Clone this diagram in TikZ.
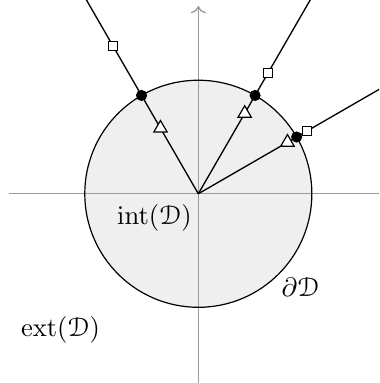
\documentclass[tikz,border=0pt]{standalone}
\usepackage{eucal}
\usetikzlibrary{arrows.meta, shapes.geometric}
\definecolor{cfill}{HTML}{EFEFEF}
\definecolor{caxis}{HTML}{9A9A9A}
\tikzset{
  axis/.style={draw=caxis, line width=0.5pt},
  ray/.style={draw=black, line width=0.5pt},
  bdot/.style={circle, fill=black, inner sep=0pt, minimum size=4.2pt},
  tmark/.style={regular polygon, regular polygon sides=3, draw=black, fill=white, inner sep=0pt, minimum size=5.8pt, line width=0.45pt},
  smark/.style={rectangle, draw=black, fill=white, inner sep=0pt, minimum size=3.3pt, line width=0.4pt},
}

\begin{document}
\begin{tikzpicture}
  \useasboundingbox (-2.62,-2.5) rectangle (2.39,2.56);
  \clip (-2.62,-2.5) rectangle (2.39,2.56);
  \coordinate (O) at (0,0);
  % the disc and the axes
  \fill[cfill] (O) circle (1.5);
  \draw[axis] (-2.5,0) -- (2.5,0);
  \draw[axis, ->] (0,-2.5) -- (0,2.48);
  \draw[black, line width=0.45pt] (O) circle (1.5);
  % rays through the boundary
  \coordinate (e1) at (120:3);
  \coordinate (e2) at (60:3);
  \coordinate (e3) at (30:3);
  \draw[ray] (O) -- (e1);
  \draw[ray] (O) -- (e2);
  \draw[ray] (O) -- (e3);
  % inner point, boundary point, inverted point
  \node[tmark] (t1) at (120:1.0) {};
  \node[bdot]  (b1) at (120:1.5) {};
  \node[smark] (s1) at (120:2.25) {};
  \node[tmark] (t2) at (60:1.225) {};
  \node[bdot]  (b2) at (60:1.5) {};
  \node[smark] (s2) at (60:1.837) {};
  \node[tmark] (t3) at (30:1.36) {};
  \node[bdot]  (b3) at (30:1.5) {};
  \node[smark] (s3) at (30:1.654) {};
  % labels
  \node (intD) at (-0.58,-0.32) {$\mathrm{int}(\mathcal{D})$};
  \node (bdD) at (1.35,-1.24) {$\partial\mathcal{D}$};
  \node (extD) at (-1.82,-1.80) {$\mathrm{ext}(\mathcal{D})$};
\end{tikzpicture}
\end{document}
